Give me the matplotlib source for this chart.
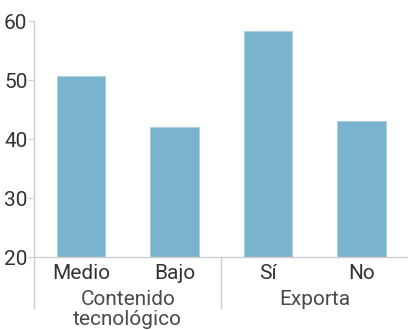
import matplotlib.pyplot as plt

plt.rcParams['font.family'] = ['Roboto', 'DejaVu Sans']

# Data
categories = ['Medio', 'Bajo', 'Sí', 'No']
values = [50.8, 42.0, 58.3, 43.1]
groups = ['Contenido\ntecnológico', 'Exporta']
yticks = [20, 30, 40, 50, 60]

bar_color = '#7AB3CE'
axis_color = '#cccccc'
text_color = '#333333'

fig = plt.figure(figsize=(4.08, 3.30), dpi=100, facecolor='white')
ax = fig.add_axes([0.084, 0.221, 0.916, 0.714])

x = range(len(categories))
ax.bar(x, [v - 20 for v in values], bottom=20, width=0.52,
       color=bar_color, edgecolor='#a9d0e2', linewidth=0.6, zorder=2)

ax.set_xlim(-0.5, 3.5)
ax.set_ylim(20, 60)
ax.set_yticks(yticks)
ax.set_yticklabels([str(t) for t in yticks])
ax.set_xticks(list(x))
ax.set_xticklabels(categories)

ax.tick_params(axis='y', length=4, width=0.8, color=axis_color,
               labelsize=15, labelcolor=text_color, pad=1)
ax.tick_params(axis='x', length=0, labelsize=15, labelcolor=text_color, pad=5)

for s in ['top', 'right']:
    ax.spines[s].set_visible(False)
for s in ['left', 'bottom']:
    ax.spines[s].set_color(axis_color)
    ax.spines[s].set_linewidth(1.0)

# group separators below the baseline
trans = ax.get_xaxis_transform()
for xs in [-0.5, 1.5]:
    ax.plot([xs, xs], [0, -0.216], transform=trans, color=axis_color,
            lw=1.0, clip_on=False)

# group labels
ax.text(0.5, -0.14, groups[0], transform=trans, ha='center', va='top',
        fontsize=15, color='#4a4a4a', linespacing=1.05)
ax.text(2.5, -0.14, groups[1], transform=trans, ha='center', va='top',
        fontsize=15, color='#4a4a4a')

fig.savefig('out.png', dpi=100, facecolor='white')
